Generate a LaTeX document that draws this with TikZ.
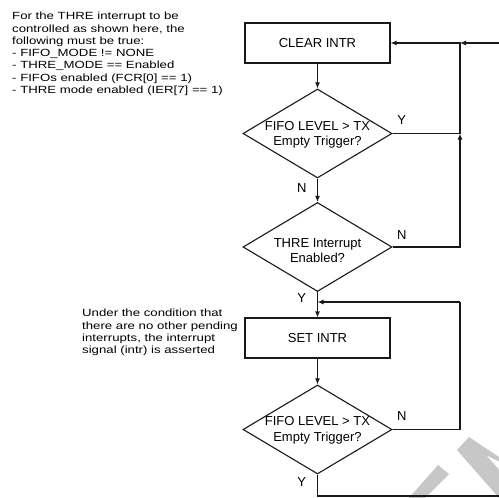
\documentclass[tikz,border=0pt]{standalone}
\usepackage{fontspec}
\setmainfont{Liberation Sans}
\newfontfamily\widefont[FakeStretch=1.27]{Liberation Sans}
\usetikzlibrary{shapes.geometric,arrows.meta}
\begin{document}
\begin{tikzpicture}[x=1pt,y=-1pt,
  box/.style={draw=black!90, line width=1.1pt, minimum width=145pt, minimum height=40pt, inner sep=0pt, font=\fontsize{13}{15.5}\selectfont},
  dia/.style={draw=black!90, diamond, line width=1.1pt, minimum width=149pt, minimum height=89pt, inner sep=0pt},
  dtxt/.style={font=\fontsize{13}{15.5}\selectfont, align=center, inner sep=0pt},
  conn/.style={draw=black!90, line width=1.1pt},
  arr/.style={conn, -{Latex[length=6pt,width=5pt]}},
  lab/.style={font=\fontsize{13}{15}\selectfont, inner sep=0pt},
  note/.style={font=\widefont\fontsize{10.4}{12.3}\selectfont, align=left, inner sep=0pt, anchor=north west},
  wm/.style={fill=black!22, draw=none}]
\useasboundingbox (0,0) rectangle (499,498);
\fill[white] (0,0) rectangle (499,498);
\clip (0,0) rectangle (499,498);
% watermark
\fill[wm] (408,499) -- (438,465) -- (449,474) -- (424,499) -- cycle;
\fill[wm] (457,450) -- (469,437) -- (502,459) -- (502,463) -- (486,455) -- (502,473) -- (502,499) -- (500,499) -- cycle;
% notes
\node[note] (note1) at (12,12) {For the THRE interrupt to be\\controlled as shown here, the\\following must be true:\\- FIFO\_MODE != NONE\\- THRE\_MODE == Enabled\\- FIFOs enabled (FCR[0] == 1)\\- THRE mode enabled (IER[7] == 1)};
\node[note] (note2) at (82,309) {Under the condition that\\there are no other pending\\interrupts, the interrupt\\signal (intr) is asserted};
% flow
\node[box] (clr) at (317.5,43) {CLEAR INTR};
\node[dia] (d1) at (317.5,133.5) {};
\node[dtxt] (t1) at (317.5,135) {FIFO LEVEL > TX\\Empty Trigger?};
\node[dia] (d2) at (317.5,247) {};
\node[dtxt] (t2) at (317.5,250.5) {THRE Interrupt\\Enabled?};
\node[box] (set) at (317.5,338) {SET INTR};
\node[dia] (d3) at (317.5,429.5) {};
\node[dtxt] (t3) at (317.5,430.5) {FIFO LEVEL > TX\\Empty Trigger?};
% labels
\node[lab] (y1) at (401.7,120) {Y};
\node[lab] (n1) at (301.7,188.3) {N};
\node[lab] (n2) at (401.7,235) {N};
\node[lab] (y2) at (301.7,297.7) {Y};
\node[lab] (n3) at (401.7,415.7) {N};
\node[lab] (y3) at (301.7,481.7) {Y};
% junctions
\coordinate (jt) at (460,43);
\coordinate (j1) at (460,133.5);
\coordinate (j2) at (460,247);
\coordinate (j3) at (317.5,302);
\coordinate (j3r) at (460,302);
\coordinate (j4) at (460,429.5);
\coordinate (b1) at (317.5,496);
\coordinate (b2) at (510,496);
\coordinate (b3) at (510,43);
% connectors
\draw[arr] (clr) -- (d1);
\draw[arr] (d1) -- (d2);
\draw[arr] (d2) -- (set);
\draw[arr] (set) -- (d3);
\draw[conn] (d1.east) -- (j1);
\draw[arr] (d2.east) -- (j2) -- (j1);
\draw[arr] (j1) -- (jt) -- (clr.east);
\draw[arr] (b3) -- (jt);
\draw[conn] (d3.east) -- (j4) -- (j3r);
\draw[arr] (j3r) -- (j3);
\draw[conn] (d3.south) -- (b1) -- (b2) -- (b3);
\end{tikzpicture}
\end{document}
